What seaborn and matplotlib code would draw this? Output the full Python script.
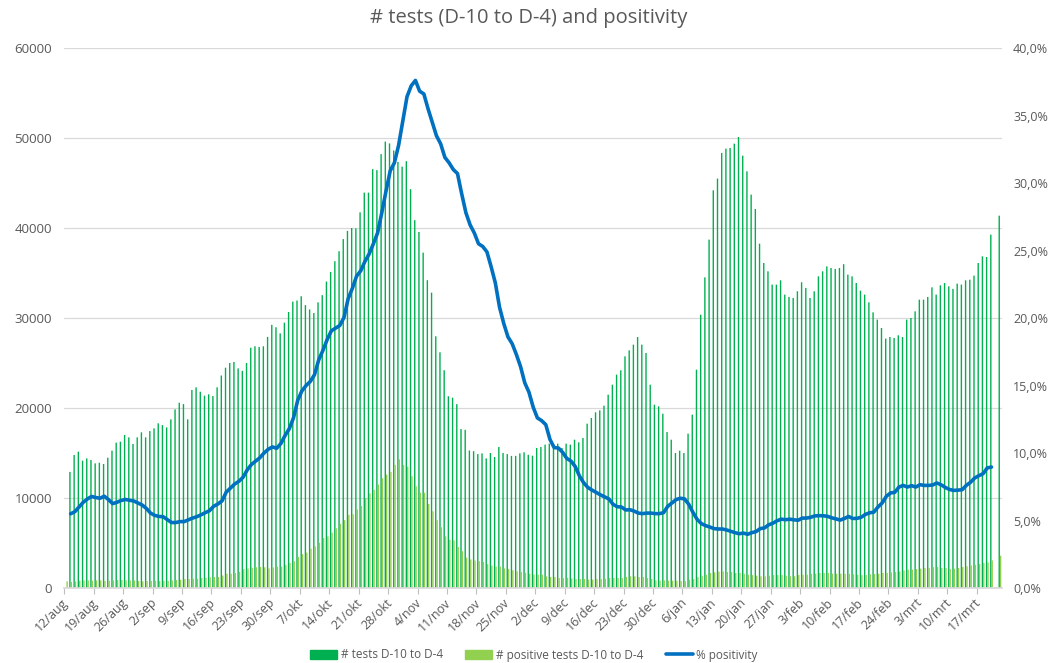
import numpy as np
import pandas as pd
import matplotlib
matplotlib.use("Agg")
import matplotlib.pyplot as plt
import seaborn as sns
from matplotlib.patches import Patch
from matplotlib.lines import Line2D
from matplotlib.ticker import FuncFormatter

nan = np.nan

# one value per day, starting 12/aug
start_date = "2020-08-12"
month_names = {8: "aug", 9: "sep", 10: "okt", 11: "nov", 12: "dec",
               1: "jan", 2: "feb", 3: "mrt"}

tests = [
    nan, 12900, 14780, 15150, 14150, 14400, 14220, 13850, 13920, 13780,
    14480, 15260, 16150, 16260, 17000, 16740, 16000, 16740, 17300, 16740,
    17440, 17740, 18300, 18100, 17850, 18740, 19850, 20590, 20440, 18740,
    22000, 22300, 21810, 21370, 21520, 21330, 22300,
    23610, 24480, 25000, 25120, 24400, 24130, 25000, 26700, 26860, 26780,
    26860, 27900, 29240, 28970, 28290, 29480, 30670, 31820, 31940, 32420,
    31430, 30950, 30550, 31740, 32540, 34050, 35120, 36310, 37420, 38770,
    39680, 40000, 39960, 41740, 43930, 43930, 46540, 46430,
    48210, 49600, 49400, 48610, 47340, 46820, 47420, 44320, 40870, 39560,
    37260, 34200, 32820, 27970, 26190, 24200, 21310, 21150, 20430, 17660,
    17580, 15280, 15200, 14880, 14960, 14400, 15000, 14560, 15670, 15000,
    14880, 14680, 14680, 14960, 15080, 14800, 14700,
    15560, 15670, 15930, 16040, 15560, 16040, 15560, 16040, 15930, 16480,
    16190, 16670, 18260, 18890, 19520, 19740, 20260, 21480, 22590, 23710,
    24190, 25740, 26410, 27040, 27890, 27040, 26110, 22590, 20370, 20190,
    19370, 17330, 16480, 15000, 15260, 15000, 17150,
    19260, 24260, 30370, 34520, 38710, 44190, 45490, 48340, 48820, 48890,
    49370, 50110, 48040, 46300, 43710, 42110, 38260, 36110, 35190, 33710,
    33710, 34190, 32600, 32340, 32230, 32970, 33970, 33340, 32230, 32970,
    34630, 35190, 35740, 35560, 35450, 35560, 35980,
    34820, 34630, 33890, 33040, 32600, 31740, 30630, 29820, 28890, 27710,
    27890, 27780, 28080, 27890, 29820, 30000, 30740, 32040, 32040, 32340,
    33410, 32600, 33630, 33890, 33520, 33230, 33820, 33710, 34190, 34260,
    34710, 36110, 36850, 36780, 39260, nan, 41370,
]

positives = [
    740, 670, 740, 815, 850, 850, 815, 850, 850, 780,
    815, 850, 890, 890, 850, 850, 850, 780, 740, 780,
    780, 815, 780, 815, 780, 850, 890, 925, 1000, 1000,
    1040, 1040, 1110, 1150, 1185, 1220, 1220,
    1390, 1590, 1590, 1670, 1790, 2100, 2180, 2260, 2300, 2340,
    2300, 2180, 2300, 2380, 2380, 2580, 2780, 2980, 3450, 3770,
    3930, 4370, 4640, 5040, 5560, 5750, 6150, 6630, 7140, 7540,
    8130, 8210, 8730, 9130, 10000, 10520,
    10900, 11500, 12200, 12600, 12900, 13690, 14290, 13690, 13490, 12420,
    11310, 10590, 10590, 9330, 8530, 7540, 6750, 5750, 5360, 5280,
    4560, 4090, 3370, 3170, 3060, 2980, 2900, 2660, 2500, 2380,
    2380, 2180, 2100, 1980, 1860, 1790, 1710, 1590, 1510,
    1480, 1480, 1300, 1220, 1220, 1110, 1110, 1150, 1070, 1000,
    1000, 1000, 930, 930, 1000, 1000, 1040, 1110, 1110, 1110,
    1110, 1220, 1300, 1300, 1220, 1220, 1110, 1000, 850, 815,
    850, 815, 815, 815, 780, 760, 930,
    1000, 1220, 1370, 1480, 1670, 1740, 1815, 1850, 1780, 1780,
    1670, 1670, 1590, 1480, 1440, 1370, 1300, 1300, 1370, 1440,
    1440, 1440, 1370, 1300, 1300, 1440, 1480, 1480, 1590, 1590,
    1670, 1670, 1670, 1590, 1590, 1590, 1590,
    1590, 1520, 1480, 1440, 1440, 1520, 1560, 1590, 1670, 1670,
    1740, 1780, 1850, 1960, 2040, 2040, 2110, 2150, 2220, 2220,
    2330, 2330, 2220, 2220, 2110, 2150, 2220, 2330, 2410, 2520,
    2590, 2670, 2780, 2850, 3070, nan, 3590,
]

# % positivity
positivity = [
    nan,
    5.5, 5.65, 6.0, 6.35, 6.6, 6.78, 6.7, 6.65, 6.8, 6.55,
    6.25, 6.35, 6.48, 6.56, 6.5, 6.45, 6.3, 6.15, 5.9, 5.55,
    5.38, 5.3, 5.28, 5.06, 4.85, 4.85, 4.92, 4.92, 5.05, 5.18,
    5.28, 5.42, 5.58, 5.72, 6.05, 6.22, 6.45, 7.1, 7.4, 7.7,
    7.9, 8.2, 8.75, 9.15, 9.4, 9.65, 10.0, 10.28, 10.45, 10.35,
    10.7, 11.3, 11.8, 12.6, 13.9, 14.6, 15.0, 15.3, 15.8, 16.9,
    17.6, 18.4, 19.05, 19.25, 19.44, 20.03, 21.43, 22.2, 23.1, 23.5,
    24.2, 24.75, 25.5, 26.3, 27.8, 29.4, 30.9, 31.5, 32.8, 34.6,
    36.4, 37.2, 37.6, 36.8, 36.6, 35.5, 34.5, 33.5, 32.9, 31.9,
    31.5, 31.0, 30.7, 29.2, 27.8, 26.9, 26.3, 25.5, 25.3, 24.9,
    23.8, 22.6, 20.8, 19.6, 18.6, 18.1, 17.3, 16.4, 15.2, 14.5,
    13.4, 12.6, 12.4, 12.1, 11.0, 10.4, 10.37, 10.05, 9.6, 9.4,
    9.0, 8.3, 7.8, 7.45, 7.25, 7.08, 6.9, 6.75, 6.6, 6.2,
    6.02, 6.0, 5.78, 5.8, 5.7, 5.55, 5.51, 5.55, 5.55, 5.51,
    5.51, 5.58, 6.05, 6.3, 6.55, 6.65, 6.6, 6.2, 5.6, 5.08,
    4.77, 4.62, 4.52, 4.4, 4.37, 4.37, 4.3, 4.2, 4.1, 4.02,
    4.07, 3.98, 4.1, 4.18, 4.4, 4.45, 4.68, 4.8, 4.98, 5.1,
    5.06, 5.1, 5.05, 5.02, 5.18, 5.18, 5.24, 5.34, 5.36, 5.35,
    5.31, 5.2, 5.12, 5.03, 5.15, 5.3, 5.15, 5.16, 5.24, 5.45,
    5.57, 5.62, 6.0, 6.3, 6.8, 7.04, 7.09, 7.48, 7.6, 7.48,
    7.58, 7.48, 7.65, 7.6, 7.6, 7.63, 7.78, 7.65, 7.45, 7.3,
    7.23, 7.25, 7.28, 7.6, 7.83, 8.15, 8.32, 8.47, 8.9, 8.96,
    nan, nan,
]

series_names = ["# tests D-10 to D-4", "# positive tests D-10 to D-4", "% positivity"]
colors = ["#00B050", "#92D050", "#0070C0"]
text_color = "#595959"

dates = pd.date_range(start_date, periods=len(tests), freq="D")
day_labels = [f"{d.day}/{month_names[d.month]}" for d in dates]
n = len(day_labels)

bars = pd.DataFrame({"day": day_labels,
                     series_names[0]: tests,
                     series_names[1]: positives})
bars = bars.melt(id_vars="day", var_name="series", value_name="count").dropna()

sns.set_theme(style="white")
plt.rcParams["font.family"] = ["Open Sans", "DejaVu Sans"]

fig = plt.figure(figsize=(10.51, 6.63), dpi=100)
ax = fig.add_axes([0.0612, 0.1131, 0.8922, 0.8145])

sns.barplot(data=bars, x="day", y="count", hue="series", order=day_labels,
            hue_order=series_names[:2], palette=colors[:2], width=0.66,
            saturation=1, linewidth=0, errorbar=None, legend=False, ax=ax)
# thin bars: no outline, no pixel snapping
for p in ax.patches:
    p.set_edgecolor("none")
    p.set_linewidth(0)
    p.set_snap(False)

ax.set_ylim(0, 60000)
ax.set_yticks(range(0, 60001, 10000))
ax.yaxis.grid(True, color="#D9D9D9", linewidth=0.9)
ax.set_axisbelow(True)
ax.set_xlabel("")
ax.set_ylabel("")
ax.tick_params(axis="y", length=0, pad=9, labelsize=9.5, labelcolor=text_color)

ax.set_xticks(range(0, n, 7))
ax.set_xticklabels(day_labels[::7], rotation=45, ha="right", va="center",
                   rotation_mode="anchor")
ax.set_xticks(np.arange(-0.5, n, 7), minor=True)
ax.tick_params(axis="x", which="major", length=0, pad=9, labelsize=9,
               labelcolor=text_color)
ax.tick_params(axis="x", which="minor", bottom=True, length=4, width=0.8,
               color="#BFBFBF")
for side in ["top", "left", "right"]:
    ax.spines[side].set_visible(False)
ax.spines["bottom"].set_color("#D9D9D9")

ax2 = ax.twinx()
sns.lineplot(x=np.arange(n), y=positivity, color=colors[2], linewidth=2.6,
             ax=ax2)
ax2.set_ylim(0, 40)
ax2.set_yticks(range(0, 41, 5))
ax2.yaxis.set_major_formatter(FuncFormatter(lambda v, p: f"{v:.1f}%".replace(".", ",")))
ax2.tick_params(axis="y", length=0, pad=8, labelsize=9, labelcolor=text_color)
for side in ax2.spines:
    ax2.spines[side].set_visible(False)
ax.set_xlim(-0.5, n - 0.5)

fig.text(0.503, 1 - 18 / 663, "# tests (D-10 to D-4) and positivity",
         ha="center", va="center", fontsize=14.5, color=text_color)

handles = [Patch(color=colors[0]), Patch(color=colors[1]),
           Line2D([], [], color=colors[2], linewidth=2.6)]
fig.legend(handles, series_names, loc="center", bbox_to_anchor=(0.508, 1 - 655 / 663),
           ncol=3, frameon=False, fontsize=8.5, handlelength=2.3, handletextpad=0.3,
           columnspacing=1.9, labelcolor=text_color)

fig.savefig("out.png", dpi=100)
